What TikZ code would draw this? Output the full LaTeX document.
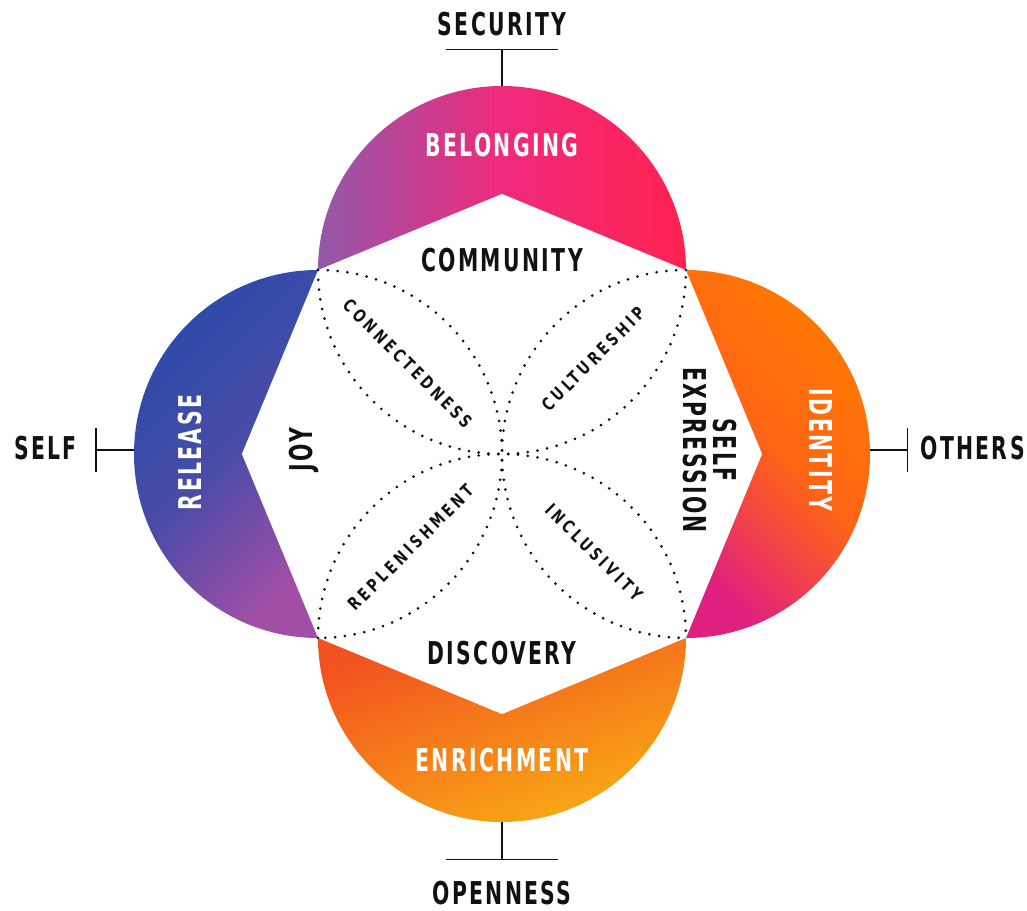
\documentclass[tikz,border=0pt]{standalone}
\usepackage{fontspec}
\usepackage{xcolor}
\usepackage{tikz}
\setmainfont{DejaVu Sans Condensed}
\newfontfamily\headfont{DejaVu Sans Condensed}[FakeStretch=0.72, LetterSpace=7.5]
\newfontfamily\petalfont{DejaVu Sans Condensed}[FakeStretch=0.85, LetterSpace=20]
\definecolor{BelongPurple}{HTML}{9458AA}
\definecolor{BelongPink}{HTML}{EF2A7C}
\definecolor{BelongRed}{HTML}{FF2250}
\definecolor{ReleaseBlue}{HTML}{2B4BA8}
\definecolor{ReleasePurple}{HTML}{A04EA6}
\definecolor{IdentityOrange}{HTML}{FF7A00}
\definecolor{IdentityMid}{HTML}{FF6416}
\definecolor{IdentityPink}{HTML}{E0207E}
\definecolor{EnrichRed}{HTML}{F2521F}
\definecolor{EnrichAmber}{HTML}{F9AC14}
\definecolor{InkBlack}{HTML}{111111}

\begin{document}
\begin{tikzpicture}[
            headlabel/.style={font=\headfont\bfseries\fontsize{17.9}{17}\selectfont, text=InkBlack, inner sep=0pt, align=center},
            petallabel/.style={font=\petalfont\bfseries\fontsize{10}{12}\selectfont, text=InkBlack, inner sep=0pt},
            tick/.style={line width=1.1pt, draw=InkBlack},
            dotarc/.style={line width=1.7pt, line cap=round, dash pattern=on 0pt off 5.6pt, draw=InkBlack}
        ]
            \useasboundingbox (-10.04,-9.14) rectangle (10.50,9.08);

            % outer half discs, each with the white notch cut out
            \shade[left color=BelongPurple, right color=BelongRed, middle color=BelongPink]
                (-3.68,3.68) arc[start angle=180, end angle=0, radius=3.68] -- (0,5.204) -- cycle;
            \shade[top color=ReleaseBlue, bottom color=ReleasePurple, middle color=ReleaseBlue!75!ReleasePurple, shading angle=45]
                (-3.68,-3.68) arc[start angle=270, end angle=90, radius=3.68] -- (-5.204,0) -- cycle;
            \shade[top color=IdentityOrange, bottom color=IdentityPink, middle color=IdentityMid, shading angle=-45]
                (3.68,3.68) arc[start angle=90, end angle=-90, radius=3.68] -- (5.204,0) -- cycle;
            \shade[top color=EnrichRed, bottom color=EnrichAmber, shading angle=20]
                (3.68,-3.68) arc[start angle=0, end angle=-180, radius=3.68] -- (0,-5.204) -- cycle;

            % inner half circles
            \draw[dotarc] (-3.68,3.68) arc[start angle=180, end angle=360, radius=3.68];
            \draw[dotarc] (-3.68,-3.68) arc[start angle=180, end angle=0, radius=3.68];
            \draw[dotarc] (-3.68,3.68) arc[start angle=90, end angle=-90, radius=3.68];
            \draw[dotarc] (3.68,3.68) arc[start angle=90, end angle=270, radius=3.68];

            % lobe names
            \node[headlabel, text=white, anchor=base] at (0, 5.95) (belonging) {BELONGING};
            \node[headlabel, text=white, anchor=base] at (0, -6.35) (enrichment) {ENRICHMENT};
            \node[headlabel, text=white, rotate=90] at (-6.24, 0.03) (release) {RELEASE};
            \node[headlabel, text=white, rotate=-90] at (6.38, 0.08) (identity) {IDENTITY};

            % inner names
            \node[headlabel, anchor=base] at (0, 3.65) (community) {COMMUNITY};
            \node[headlabel, anchor=base] at (0, -4.22) (discovery) {DISCOVERY};
            \node[headlabel, rotate=90] at (-3.97, 0.08) (joy) {JOY};
            \node[headlabel, rotate=-90] at (4.16, 0.08) (selfexpr) {SELF\\EXPRESSION};

            \node[petallabel, rotate=-45] at (-1.89, 1.81) (connectedness) {CONNECTEDNESS};
            \node[petallabel, rotate=45] at (1.83, 1.90) (cultureship) {CULTURESHIP};
            \node[petallabel, rotate=45] at (-1.82, -1.87) (replenishment) {REPLENISHMENT};
            \node[petallabel, rotate=-45] at (1.84, -1.97) (inclusivity) {INCLUSIVITY};

            % axis ends
            \node[headlabel, anchor=base] at (0, 8.36) (security) {SECURITY};
            \node[headlabel, anchor=base] at (0, -9.02) (openness) {OPENNESS};
            \node[headlabel, anchor=base] at (-9.13, -0.12) (self) {SELF};
            \node[headlabel, anchor=base] at (9.41, -0.12) (others) {OTHERS};

            \coordinate (belongingTip) at (0, 7.36);
            \coordinate (securityBar) at (0, 8.09);
            \coordinate (enrichmentTip) at (0, -7.36);
            \coordinate (opennessBar) at (0, -8.11);
            \coordinate (releaseTip) at (-7.36, 0.08);
            \coordinate (selfBar) at (-8.12, 0.08);
            \coordinate (identityTip) at (7.36, 0.08);
            \coordinate (othersBar) at (8.11, 0.08);

            \draw[tick] (belongingTip) -- (securityBar);
            \draw[tick] ([xshift=-1.12cm]securityBar) -- ([xshift=1.12cm]securityBar);
            \draw[tick] (enrichmentTip) -- (opennessBar);
            \draw[tick] ([xshift=-1.12cm]opennessBar) -- ([xshift=1.12cm]opennessBar);
            \draw[tick] (releaseTip) -- (selfBar);
            \draw[tick] ([yshift=-0.44cm]selfBar) -- ([yshift=0.44cm]selfBar);
            \draw[tick] (identityTip) -- (othersBar);
            \draw[tick] ([yshift=-0.44cm]othersBar) -- ([yshift=0.44cm]othersBar);

        \end{tikzpicture}
\end{document}
